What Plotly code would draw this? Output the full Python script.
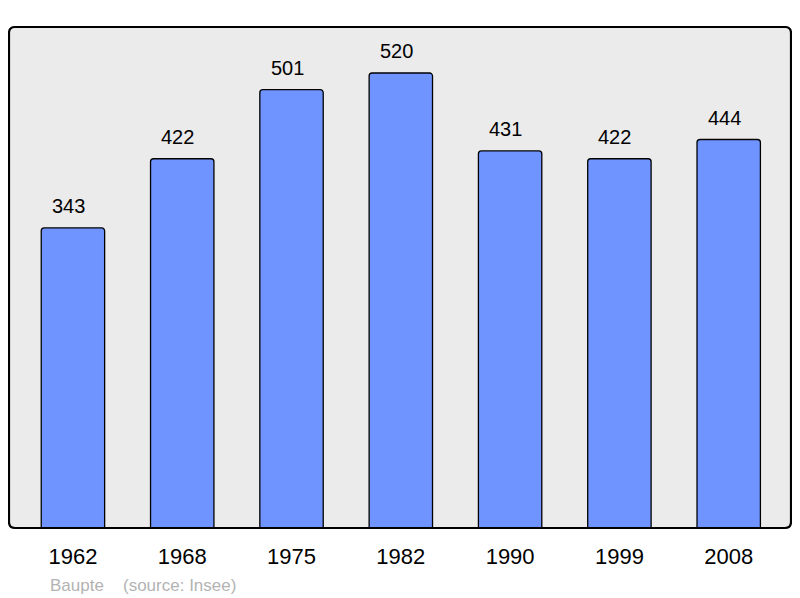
import plotly.graph_objects as go

years = ["1962", "1968", "1975", "1982", "1990", "1999", "2008"]
population = [343, 422, 501, 520, 431, 422, 444]
commune = "Baupte"
source = "(source: Insee)"

x = list(range(len(years)))

# The page body has an 8px margin; size the figure so the plot area lands where the reference has it.
FIG_W, FIG_H = 792, 590
L, T = 1, 19
W, H = 782.0, 501.0
R = FIG_W - L - int(W)
B = FIG_H - T - int(H)

fig = go.Figure()
fig.add_trace(go.Bar(
    x=x, y=population, width=0.58,
    marker=dict(color="#7094ff", line=dict(color="black", width=1.3), cornerradius=3),
    hoverinfo="skip",
))

for xi, v in zip(x, population):
    fig.add_annotation(x=xi, y=v, text=str(v), showarrow=False, yanchor="bottom",
                       yshift=9, xshift=-4.5,
                       font=dict(size=20, color="black", family="Liberation Sans, Arial"))

# rounded plot frame
r = 6.0
rx, ry = r / W, r / H
path = (f"M {rx},0 L {1-rx},0 Q 1,0 1,{ry} L 1,{1-ry} Q 1,1 {1-rx},1 "
        f"L {rx},1 Q 0,1 0,{1-ry} L 0,{ry} Q 0,0 {rx},0 Z")
fig.add_shape(type="path", path=path, xref="paper", yref="paper",
              fillcolor="#ebebeb", line=dict(width=0), layer="below")
fig.add_shape(type="path", path=path, xref="paper", yref="paper",
              fillcolor="rgba(0,0,0,0)", line=dict(color="black", width=2.2), layer="above")

foot_y = -(585 - 528) / H
fig.add_annotation(xref="paper", yref="paper", x=(48 - 9) / W, y=foot_y,
                   xanchor="left", yanchor="middle", text=commune, showarrow=False,
                   font=dict(size=17, color="#b3b3b3", family="Liberation Sans, Arial"))
fig.add_annotation(xref="paper", yref="paper", x=(121 - 9) / W, y=foot_y,
                   xanchor="left", yanchor="middle", text=source, showarrow=False,
                   font=dict(size=17, color="#b3b3b3", family="Liberation Sans, Arial"))

fig.update_layout(
    width=FIG_W, height=FIG_H,
    margin=dict(l=L, r=R, t=T, b=B, pad=0),
    paper_bgcolor="white", plot_bgcolor="white",
    showlegend=False,
    font=dict(family="Liberation Sans, Arial", color="black"),
    xaxis=dict(tickvals=x, ticktext=years, range=[-0.585, 6.57], showgrid=False,
               zeroline=False, ticks="", tickfont=dict(size=22), ticklabelstandoff=13),
    yaxis=dict(range=[0, 572.6], showgrid=False, zeroline=False, showticklabels=False, ticks=""),
)

fig.write_html("out.html")
